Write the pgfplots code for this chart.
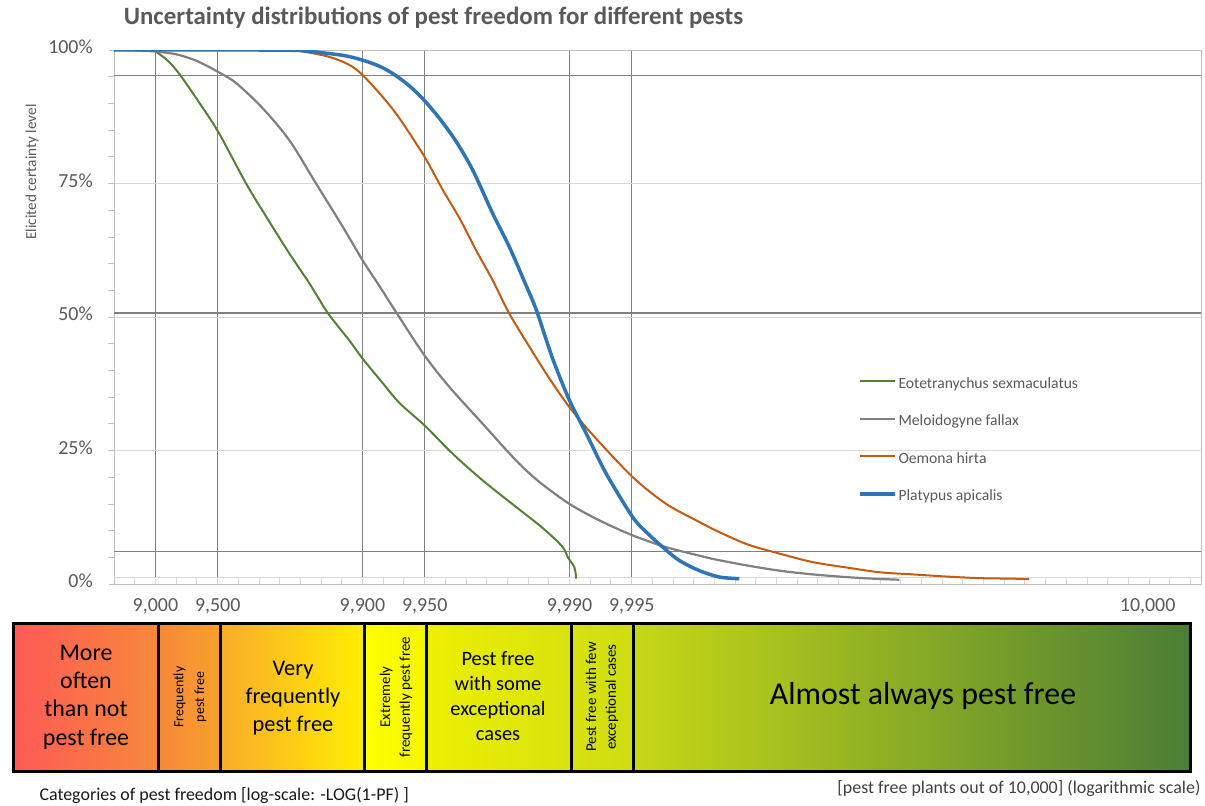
\documentclass[border=0pt]{standalone}
\usepackage{pgfplots}
\pgfplotsset{compat=1.18}
\usepackage{pgfplotstable}
\usepackage{fontspec}
\setmainfont{Carlito}
\definecolor{txtgray}{HTML}{595959}
\definecolor{gridlight}{HTML}{D9D9D9}
\definecolor{axgray}{HTML}{BFBFBF}
\definecolor{vgrid}{HTML}{808080}
\definecolor{cgreen}{HTML}{548235}
\definecolor{cgray}{HTML}{808080}
\definecolor{corange}{HTML}{C55A11}
\definecolor{cblue}{HTML}{2E75B6}
\definecolor{b0}{HTML}{FF5A55}
\definecolor{b1}{HTML}{F6883A}
\definecolor{b2}{HTML}{F8A02C}
\definecolor{b3a}{HTML}{F9AC2A}
\definecolor{b3}{HTML}{FFEE00}
\definecolor{b4}{HTML}{FFFF00}
\definecolor{b4r}{HTML}{F4F500}
\definecolor{b5}{HTML}{EDF000}
\definecolor{b5r}{HTML}{D8E20E}
\definecolor{b6}{HTML}{CEDD12}
\definecolor{b7}{HTML}{C7D816}
\definecolor{b8}{HTML}{4B7E35}

\pgfplotstableread{
x y
0.80 100
1.00 100
1.003 99.7
1.060 98.0
1.116 95.5
1.197 91.0
1.303 84.7
1.438 75.0
1.535 68.8
1.647 61.9
1.744 56.3
1.832 50.8
1.937 45.6
2.001 42.2
2.090 38.0
2.179 33.9
2.300 29.7
2.436 24.4
2.581 19.4
2.743 14.4
2.855 11.0
2.936 8.2
2.975 6.5
2.992 5.0
3.012 3.9
3.024 3.1
3.030 2.0
3.032 1.0
}\greentab

\pgfplotstableread{
x y
0.80 100
0.92 99.9
1.003 99.7
1.100 99.2
1.197 98.0
1.303 95.9
1.390 93.8
1.518 89.1
1.647 83.1
1.776 75.0
1.905 66.9
2.001 60.6
2.082 55.8
2.171 50.4
2.300 42.8
2.420 36.9
2.581 30.0
2.743 23.1
2.855 19.1
3.000 15.0
3.145 11.9
3.306 9.1
3.467 6.9
3.628 5.3
3.692 4.7
3.854 3.5
4.014 2.5
4.175 1.8
4.337 1.3
4.465 1.0
4.594 0.8
}\graytab

\pgfplotstableread{
x y
0.80 100
1.60 100
1.712 99.7
1.841 98.7
1.937 97.2
2.001 95.3
2.098 91.2
2.179 87.2
2.300 80.0
2.388 73.8
2.469 68.5
2.549 62.5
2.629 56.9
2.710 50.6
2.823 43.4
2.903 38.5
3.000 33.1
3.113 27.9
3.306 20.0
3.467 15.0
3.628 11.6
3.692 10.3
3.854 7.5
4.014 5.7
4.175 4.1
4.337 3.1
4.498 2.2
4.658 1.8
4.820 1.4
4.981 1.1
5.140 1.0
5.220 0.9
}\orangetab

\pgfplotstableread{
x y
0.80 100
1.50 100
1.70 99.9
1.825 99.4
1.920 98.9
2.001 98.1
2.080 97.0
2.146 95.6
2.220 93.5
2.291 90.9
2.372 87.2
2.452 82.9
2.533 77.5
2.629 69.4
2.710 63.1
2.794 55.6
2.842 51.1
2.919 42.2
3.000 34.4
3.081 28.2
3.177 20.7
3.306 12.5
3.380 9.4
3.451 6.9
3.531 4.4
3.628 2.5
3.725 1.3
3.821 1.0
}\bluetab

\begin{document}
\begin{tikzpicture}[x=1bp,y=-1bp]
\path[use as bounding box] (0,0) rectangle (1205,806);
\begin{axis}[
  at={(114bp,-584bp)}, anchor=south west,
  scale only axis, width=1087bp, height=534bp,
  xmin=0.8, xmax=6.051, ymin=0, ymax=100,
  axis line style={axgray, line width=0.8bp},
  xtick={1,1.30103,2,2.30103,3,3.30103},
  xticklabels={{9,000},{9,500},{9,900},{9,950},{9,990},{9,995}},
  extra x ticks={5.793}, extra x tick labels={10{,}000},
  extra x tick style={grid=none, major tick length=0pt},
  minor xtick={0.8,0.9,...,6.0},
  ytick={0,25,50,75,100},
  yticklabels={0\%,25\%,50\%,75\%,100\%},
  minor ytick={5,10,...,95},
  xtick pos=left, ytick pos=left,
  tick align=inside,
  major tick length=5bp, minor tick length=6bp,
  x tick style={draw=none},
  minor x tick style={draw=gridlight, line width=0.8bp},
  y tick style={axgray, line width=0.8bp, xshift=-5bp},
  minor y tick style={axgray, line width=0.8bp, xshift=-1bp},
  xmajorgrids, ymajorgrids,
  major x grid style={vgrid, line width=1.2bp},
  major y grid style={gridlight, line width=1bp},
  tick label style={font=\fontsize{20}{24}\selectfont, text=txtgray},
  xticklabel style={anchor=center, yshift=-22bp, inner sep=0pt},
  yticklabel style={anchor=east, inner sep=0pt, xshift=-21bp, yshift=3bp},
  legend style={at={(axis description cs:0.682,0.390)}, anchor=north west, draw=none, fill=none,
    font=\fontsize{15.7}{18}\selectfont, text=txtgray, row sep=22.5bp,
    nodes={inner sep=1.5bp, text height=9bp, text depth=3bp}},
  legend cell align=left,
  legend image code/.code={\draw[#1] (0bp,4bp) -- (35bp,4bp);},
]
\addplot[forget plot, gridlight, line width=0.8bp] coordinates {(0.8,1.15) (6.051,1.15)};
\addplot[forget plot, vgrid, line width=1.3bp] coordinates {(0.8,95.2) (6.051,95.2)};
\addplot[forget plot, vgrid, line width=2.2bp] coordinates {(0.8,50.7) (6.051,50.7)};
\addplot[forget plot, vgrid, line width=1.3bp] coordinates {(0.8,6.1) (6.051,6.1)};
\addplot[cgreen, line width=2bp, smooth, tension=0.5] table[x=x,y=y] {\greentab};
\addlegendentry{Eotetranychus sexmaculatus}
\addplot[cgray, line width=2.2bp, smooth, tension=0.5] table[x=x,y=y] {\graytab};
\addlegendentry{Meloidogyne fallax}
\addplot[corange, line width=2bp, smooth, tension=0.5] table[x=x,y=y] {\orangetab};
\addlegendentry{Oemona hirta}
\addplot[cblue, line width=3.5bp, smooth, tension=0.5] table[x=x,y=y] {\bluetab};
\addlegendentry{Platypus apicalis}
\end{axis}

% title and axis label
\node[font=\bfseries\fontsize{25}{30}\selectfont, text=txtgray] at (433.5,18) {Uncertainty distributions of pest freedom for different pests};
\node[rotate=90, font=\fontsize{15.3}{18}\selectfont, text=txtgray] at (32,172) {Elicited certainty level};

% category bar
\fill[left color=b0, right color=b1] (13,623) rectangle (158,771);
\fill[left color=b1, right color=b2] (158,623) rectangle (220,771);
\fill[left color=b3a, right color=b3] (220,623) rectangle (364,771);
\fill[left color=b4, right color=b4r] (364,623) rectangle (426,771);
\fill[left color=b5, right color=b5r] (426,623) rectangle (571,771);
\fill[left color=b5r, right color=b6] (571,623) rectangle (633,771);
\fill[left color=b7, right color=b8] (633,623) rectangle (1190,771);
\foreach \a/\b in {13/158,158/220,220/364,364/426,426/571,571/633,633/1190}
  \draw[black, line width=3bp] (\a,623) rectangle (\b,771);

\node[align=center, font=\fontsize{24}{28.3}\selectfont] at (86,697) {More\\often\\than not\\pest free};
\node[align=center, rotate=90, font=\fontsize{14}{21}\selectfont] at (190,697) {Frequently\\pest free};
\node[align=center, font=\fontsize{22.5}{28}\selectfont] at (293,698) {Very\\frequently\\pest free};
\node[align=center, rotate=90, font=\fontsize{15}{20}\selectfont] at (396,697) {Extremely\\frequently pest free};
\node[align=center, font=\fontsize{20.5}{25.3}\selectfont] at (498,696) {Pest free\\with some\\exceptional\\cases};
\node[align=center, rotate=90, font=\fontsize{15}{20}\selectfont] at (602,697) {Pest free with few\\exceptional cases};
\node[font=\fontsize{32}{36}\selectfont] at (923,696) {Almost always pest free};

\node[anchor=west, font=\fontsize{18}{21}\selectfont, text=black!90] at (36,795) {Categories of pest freedom [log-scale: -LOG(1-PF) ]};
\node[anchor=east, font=\fontsize{18}{21}\selectfont, text=black!75] at (1204,788) {[pest free plants out of 10,000] (logarithmic scale)};
\end{tikzpicture}
\end{document}
